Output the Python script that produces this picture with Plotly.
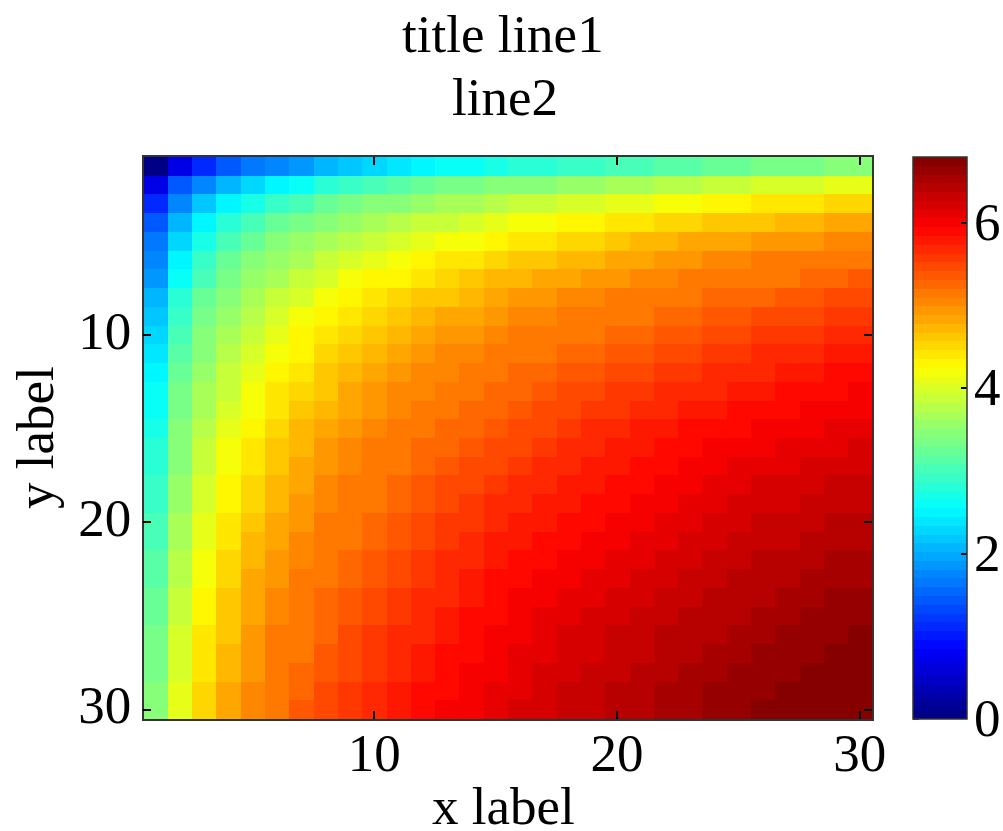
import plotly.graph_objects as go

row01 = [0.0,0.7,1.1,1.4,1.6,1.8,1.9,2.1,2.2,2.3,2.4,2.5,2.6,2.6,2.7,2.8,2.8,2.9,2.9,3.0,3.0,3.1,3.1,3.2,3.2,3.3,3.3,3.3,3.4,3.4]
row02 = [0.7,1.4,1.8,2.1,2.3,2.5,2.6,2.8,2.9,3.0,3.1,3.2,3.3,3.3,3.4,3.5,3.5,3.6,3.6,3.7,3.7,3.8,3.8,3.9,3.9,4.0,4.0,4.0,4.1,4.1]
row03 = [1.1,1.8,2.2,2.5,2.7,2.9,3.0,3.2,3.3,3.4,3.5,3.6,3.7,3.7,3.8,3.9,3.9,4.0,4.0,4.1,4.1,4.2,4.2,4.3,4.3,4.4,4.4,4.4,4.5,4.5]
row04 = [1.4,2.1,2.5,2.8,3.0,3.2,3.3,3.5,3.6,3.7,3.8,3.9,3.9,4.0,4.1,4.2,4.2,4.3,4.3,4.4,4.4,4.5,4.5,4.6,4.6,4.6,4.7,4.7,4.8,4.8]
row05 = [1.6,2.3,2.7,3.0,3.2,3.4,3.6,3.7,3.8,3.9,4.0,4.1,4.2,4.2,4.3,4.4,4.4,4.5,4.5,4.6,4.7,4.7,4.8,4.8,4.8,4.9,4.9,4.9,5.0,5.0]
row06 = [1.8,2.5,2.9,3.2,3.4,3.6,3.7,3.9,4.0,4.1,4.2,4.3,4.4,4.4,4.5,4.6,4.6,4.7,4.7,4.8,4.8,4.9,4.9,5.0,5.0,5.1,5.1,5.1,5.2,5.2]
row07 = [1.9,2.6,3.0,3.3,3.6,3.7,3.9,4.0,4.2,4.3,4.3,4.4,4.5,4.6,4.7,4.7,4.8,4.8,4.9,4.9,5.0,5.0,5.1,5.1,5.2,5.2,5.2,5.3,5.3,5.4]
row08 = [2.1,2.8,3.2,3.5,3.7,3.9,4.0,4.2,4.3,4.4,4.5,4.6,4.6,4.7,4.8,4.9,4.9,5.0,5.0,5.1,5.1,5.2,5.2,5.3,5.3,5.3,5.4,5.4,5.5,5.5]
row09 = [2.2,2.9,3.3,3.6,3.8,4.0,4.2,4.3,4.4,4.5,4.6,4.7,4.8,4.8,4.9,5.0,5.0,5.1,5.1,5.2,5.2,5.3,5.3,5.4,5.4,5.5,5.5,5.5,5.6,5.6]
row10 = [2.3,3.0,3.4,3.7,3.9,4.1,4.3,4.4,4.5,4.6,4.7,4.8,4.9,4.9,5.0,5.1,5.1,5.2,5.2,5.3,5.3,5.4,5.4,5.5,5.5,5.6,5.6,5.6,5.7,5.7]
row11 = [2.4,3.1,3.5,3.8,4.0,4.2,4.3,4.5,4.6,4.7,4.8,4.9,5.0,5.0,5.1,5.2,5.2,5.3,5.3,5.4,5.4,5.5,5.5,5.6,5.6,5.7,5.7,5.7,5.8,5.8]
row12 = [2.5,3.2,3.6,3.9,4.1,4.3,4.4,4.6,4.7,4.8,4.9,5.0,5.0,5.1,5.2,5.3,5.3,5.4,5.4,5.5,5.5,5.6,5.6,5.7,5.7,5.7,5.8,5.8,5.9,5.9]
row13 = [2.6,3.3,3.7,3.9,4.2,4.4,4.5,4.6,4.8,4.9,5.0,5.0,5.1,5.2,5.3,5.3,5.4,5.5,5.5,5.6,5.6,5.7,5.7,5.7,5.8,5.8,5.9,5.9,5.9,6.0]
row14 = [2.6,3.3,3.7,4.0,4.2,4.4,4.6,4.7,4.8,4.9,5.0,5.1,5.2,5.3,5.3,5.4,5.5,5.5,5.6,5.6,5.7,5.7,5.8,5.8,5.9,5.9,5.9,6.0,6.0,6.0]
row15 = [2.7,3.4,3.8,4.1,4.3,4.5,4.7,4.8,4.9,5.0,5.1,5.2,5.3,5.3,5.4,5.5,5.5,5.6,5.7,5.7,5.8,5.8,5.9,5.9,5.9,6.0,6.0,6.0,6.1,6.1]
row16 = [2.8,3.5,3.9,4.2,4.4,4.6,4.7,4.9,5.0,5.1,5.2,5.3,5.3,5.4,5.5,5.5,5.6,5.7,5.7,5.8,5.8,5.9,5.9,6.0,6.0,6.0,6.1,6.1,6.1,6.2]
row17 = [2.8,3.5,3.9,4.2,4.4,4.6,4.8,4.9,5.0,5.1,5.2,5.3,5.4,5.5,5.5,5.6,5.7,5.7,5.8,5.8,5.9,5.9,6.0,6.0,6.1,6.1,6.1,6.2,6.2,6.2]
row18 = [2.9,3.6,4.0,4.3,4.5,4.7,4.8,5.0,5.1,5.2,5.3,5.4,5.5,5.5,5.6,5.7,5.7,5.8,5.8,5.9,5.9,6.0,6.0,6.1,6.1,6.2,6.2,6.2,6.3,6.3]
row19 = [2.9,3.6,4.0,4.3,4.5,4.7,4.9,5.0,5.1,5.2,5.3,5.4,5.5,5.6,5.7,5.7,5.8,5.8,5.9,5.9,6.0,6.0,6.1,6.1,6.2,6.2,6.2,6.3,6.3,6.3]
row20 = [3.0,3.7,4.1,4.4,4.6,4.8,4.9,5.1,5.2,5.3,5.4,5.5,5.6,5.6,5.7,5.8,5.8,5.9,5.9,6.0,6.0,6.1,6.1,6.2,6.2,6.3,6.3,6.3,6.4,6.4]
row21 = [3.0,3.7,4.1,4.4,4.7,4.8,5.0,5.1,5.2,5.3,5.4,5.5,5.6,5.7,5.8,5.8,5.9,5.9,6.0,6.0,6.1,6.1,6.2,6.2,6.3,6.3,6.3,6.4,6.4,6.4]
row22 = [3.1,3.8,4.2,4.5,4.7,4.9,5.0,5.2,5.3,5.4,5.5,5.6,5.7,5.7,5.8,5.9,5.9,6.0,6.0,6.1,6.1,6.2,6.2,6.3,6.3,6.4,6.4,6.4,6.5,6.5]
row23 = [3.1,3.8,4.2,4.5,4.8,4.9,5.1,5.2,5.3,5.4,5.5,5.6,5.7,5.8,5.9,5.9,6.0,6.0,6.1,6.1,6.2,6.2,6.3,6.3,6.4,6.4,6.4,6.5,6.5,6.5]
row24 = [3.2,3.9,4.3,4.6,4.8,5.0,5.1,5.3,5.4,5.5,5.6,5.7,5.7,5.8,5.9,6.0,6.0,6.1,6.1,6.2,6.2,6.3,6.3,6.4,6.4,6.4,6.5,6.5,6.6,6.6]
row25 = [3.2,3.9,4.3,4.6,4.8,5.0,5.2,5.3,5.4,5.5,5.6,5.7,5.8,5.9,5.9,6.0,6.1,6.1,6.2,6.2,6.3,6.3,6.4,6.4,6.4,6.5,6.5,6.6,6.6,6.6]
row26 = [3.3,4.0,4.4,4.6,4.9,5.1,5.2,5.3,5.5,5.6,5.7,5.7,5.8,5.9,6.0,6.0,6.1,6.2,6.2,6.3,6.3,6.4,6.4,6.4,6.5,6.5,6.6,6.6,6.6,6.7]
row27 = [3.3,4.0,4.4,4.7,4.9,5.1,5.2,5.4,5.5,5.6,5.7,5.8,5.9,5.9,6.0,6.1,6.1,6.2,6.2,6.3,6.3,6.4,6.4,6.5,6.5,6.6,6.6,6.6,6.7,6.7]
row28 = [3.3,4.0,4.4,4.7,4.9,5.1,5.3,5.4,5.5,5.6,5.7,5.8,5.9,6.0,6.0,6.1,6.2,6.2,6.3,6.3,6.4,6.4,6.5,6.5,6.6,6.6,6.6,6.7,6.7,6.7]
row29 = [3.4,4.1,4.5,4.8,5.0,5.2,5.3,5.5,5.6,5.7,5.8,5.9,5.9,6.0,6.1,6.1,6.2,6.3,6.3,6.4,6.4,6.5,6.5,6.6,6.6,6.6,6.7,6.7,6.7,6.8]
row30 = [3.4,4.1,4.5,4.8,5.0,5.2,5.4,5.5,5.6,5.7,5.8,5.9,6.0,6.0,6.1,6.2,6.2,6.3,6.3,6.4,6.4,6.5,6.5,6.6,6.6,6.7,6.7,6.7,6.8,6.8]

z_values = [row01,row02,row03,row04,row05,row06,row07,row08,row09,row10,
            row11,row12,row13,row14,row15,row16,row17,row18,row19,row20,
            row21,row22,row23,row24,row25,row26,row27,row28,row29,row30]
x_labels = list(range(1, 31))
y_labels = list(range(1, 31))
axis_ticks = [10, 20, 30]
bar_ticks = [0, 2, 4, 6]
z_max = 6.8

W, H = 1003, 831
L, R, T, B = 143.5, 872, 157, 719
CL, CR = 913, 967
FONT = dict(family="Liberation Serif", color="black", size=53)
LINE = "#333333"


def jet_scale(n=64):
    def ch(v):
        return max(0.0, min(1.0, v))
    cols = []
    for i in range(n):
        t = (i + 0.5) / n
        r = ch(min(4 * t - 1.5, -4 * t + 4.5))
        g = ch(min(4 * t - 0.5, -4 * t + 3.5))
        b = ch(min(4 * t + 0.5, -4 * t + 2.5))
        cols.append(f"rgb({round(r*255)},{round(g*255)},{round(b*255)})")
    scale = []
    for i, c in enumerate(cols):
        scale.append([i / n, c])
        scale.append([(i + 1) / n, c])
    return scale


fig = go.Figure(go.Heatmap(
    x=x_labels, y=y_labels, z=z_values,
    colorscale=jet_scale(), zmin=0, zmax=z_max, zsmooth=False,
    colorbar=dict(
        x=CL / W, xanchor="left", xref="paper",
        y=1 - B / H, yanchor="bottom", yref="paper",
        thicknessmode="pixels", thickness=CR - CL,
        lenmode="fraction", len=(B - T) / H,
        tickmode="array", tickvals=bar_ticks, ticktext=[str(v) for v in bar_ticks],
        ticks="inside", ticklen=6, tickwidth=1.5, tickcolor="black",
        showticklabels=False, outlinecolor=LINE, outlinewidth=1.5, borderwidth=0, xpad=0, ypad=0,
    ),
))


def bar_y(v):
    return B - (B - T) * v / z_max


# left-hand copies of the colour bar ticks
shapes = []
for v in bar_ticks:
    yp = 1 - bar_y(v) / H
    shapes.append(dict(type="line", xref="paper", yref="paper",
                       x0=CL / W, x1=(CL + 6) / W, y0=yp, y1=yp,
                       line=dict(color="black", width=1.5)))

axis_common = dict(
    ticks="inside", ticklen=8, tickwidth=1.5, tickcolor="black",
    showline=True, linecolor=LINE, linewidth=1.5, mirror="ticks",
    showgrid=False, zeroline=False, tickfont=FONT, tickmode="array",
    tickvals=axis_ticks, ticktext=[str(v) for v in axis_ticks],
    automargin=False,
)


def note(text, cx, cy, **kw):
    return dict(text=text, xref="paper", yref="paper",
                x=cx / W, y=1 - cy / H, xanchor="center", yanchor="middle",
                showarrow=False, font=FONT, **kw)


fig.update_layout(
    width=W, height=H, margin=dict(l=0, r=0, t=0, b=0, autoexpand=False),
    paper_bgcolor="white", plot_bgcolor="white", shapes=shapes,
    xaxis=dict(axis_common, domain=[L / W, R / W], range=[0.5, 30.5], ticklabelstandoff=-13),
    yaxis=dict(axis_common, domain=[1 - B / H, 1 - T / H], range=[30.5, 0.5], ticklabelshift=5),
    annotations=[
        note("title line1", 502.5, 34),
        note("line2", 505, 97),
        note("x label", 503.5, 806, height=46),
        note("y label", 35, 438, textangle=-90),
    ] + [note(str(v), 987, bar_y(v) - 1) for v in bar_ticks],
)
fig.write_html("out.html", post_script="document.body.style.margin='0';",
               config={"displayModeBar": False})
